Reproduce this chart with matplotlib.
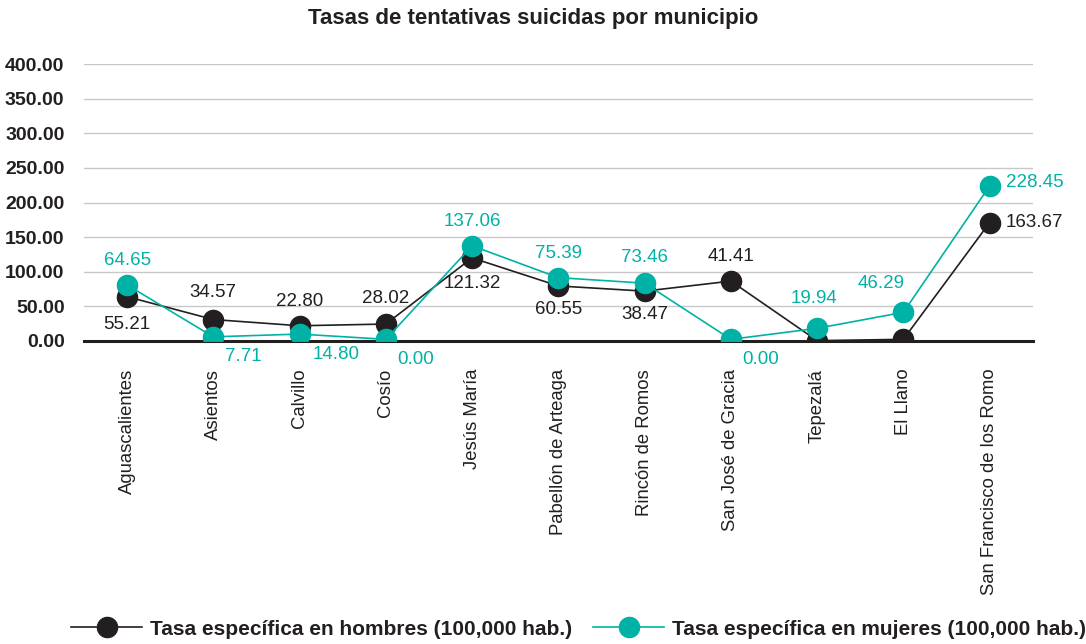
import matplotlib.pyplot as plt

# Municipalities (x categories)
municipios = [
    "Aguascalientes", "Asientos", "Calvillo", "Cosío", "Jesús María",
    "Pabellón de Arteaga", "Rincón de Romos", "San José de Gracia",
    "Tepezalá", "El Llano", "San Francisco de los Romo",
]

# Plotted values
hombres = [64, 31, 22, 24.5, 120, 79.5, 72, 86.5, 0.5, 2.4, 171]
mujeres = [81, 6, 10, 2.4, 137.5, 91.5, 83.5, 2.4, 18.3, 41.4, 224]

# Data label texts shown on the chart
hombres_txt = ["55.21", "34.57", "22.80", "28.02", "121.32", "60.55",
               "38.47", "41.41", "", "", "163.67"]
mujeres_txt = ["64.65", "7.71", "14.80", "0.00", "137.06", "75.39",
               "73.46", "0.00", "19.94", "46.29", "228.45"]

y_ticks = [0, 50, 100, 150, 200, 250, 300, 350, 400]

# label placement (dx, dy in pixels, horizontal alignment)
pos_h = [(0, -28, "center"), (0, 27, "center"), (0, 24, "center"), (0, 26, "center"),
         (0, -26, "center"), (0, -24, "center"), (0, -23, "center"), (0, 25, "center"),
         (0, 0, "center"), (0, 0, "center"), (16, 0, "left")]
pos_m = [(0, 24, "center"), (12, -20, "left"), (13, -20, "left"), (11, -20, "left"),
         (0, 24, "center"), (0, 24, "center"), (0, 26, "center"), (11, -20, "left"),
         (-3, 30, "center"), (-22, 29, "center"), (16, 3, "left")]

BLACK = "#231f20"
TEAL = "#00b2a6"

plt.rcParams["font.family"] = ["Liberation Sans", "DejaVu Sans"]

fig = plt.figure(figsize=(10.86, 6.44), dpi=100)
ax = fig.add_axes([0.0773, 0.4705, 0.8737, 0.4301])

x = list(range(len(municipios)))
ax.plot(x, hombres, color=BLACK, linewidth=1.2, marker="o", markersize=14.5,
        label="Tasa específica en hombres (100,000 hab.)", zorder=3)
ax.plot(x, mujeres, color=TEAL, linewidth=1.2, marker="o", markersize=14.5,
        label="Tasa específica en mujeres (100,000 hab.)", zorder=4)

for i in x:
    dx, dy, ha = pos_h[i]
    if hombres_txt[i]:
        ax.annotate(hombres_txt[i], (i, hombres[i]), xytext=(dx, dy),
                    textcoords="offset pixels", ha=ha, va="center",
                    fontsize=13.5, color=BLACK)
    dx, dy, ha = pos_m[i]
    ax.annotate(mujeres_txt[i], (i, mujeres[i]), xytext=(dx, dy),
                textcoords="offset pixels", ha=ha, va="center",
                fontsize=13.5, color=TEAL)

ax.set_xlim(-0.5, len(municipios) - 0.5)
ax.set_ylim(0, 400)
ax.set_yticks(y_ticks)
ax.set_yticklabels([f"{v:.2f}" for v in y_ticks], fontsize=14, fontweight="bold",
                   color=BLACK)
ax.set_xticks(x)
ax.set_xticklabels(municipios, rotation=90, fontsize=13.3, color=BLACK, va="top")
ax.tick_params(axis="both", length=0)
ax.tick_params(axis="x", pad=20)
ax.tick_params(axis="y", pad=14)

ax.grid(axis="y", color="#c8c8c8", linewidth=1)
ax.set_axisbelow(True)
for s in ["top", "right", "left"]:
    ax.spines[s].set_visible(False)
ax.spines["bottom"].set_color(BLACK)
ax.spines["bottom"].set_linewidth(2.2)
ax.spines["bottom"].set_zorder(2)

fig.text(0.491, 0.972, "Tasas de tentativas suicidas por municipio",
         ha="center", va="center", fontsize=16, fontweight="bold", color=BLACK)

fig.legend(loc="center", bbox_to_anchor=(0.533, 0.023), ncol=2, frameon=False,
           handlelength=3.4, handletextpad=0.4, columnspacing=1.0,
           prop={"size": 15, "weight": "bold"}, labelcolor=BLACK)

fig.savefig("out.png", dpi=100)
